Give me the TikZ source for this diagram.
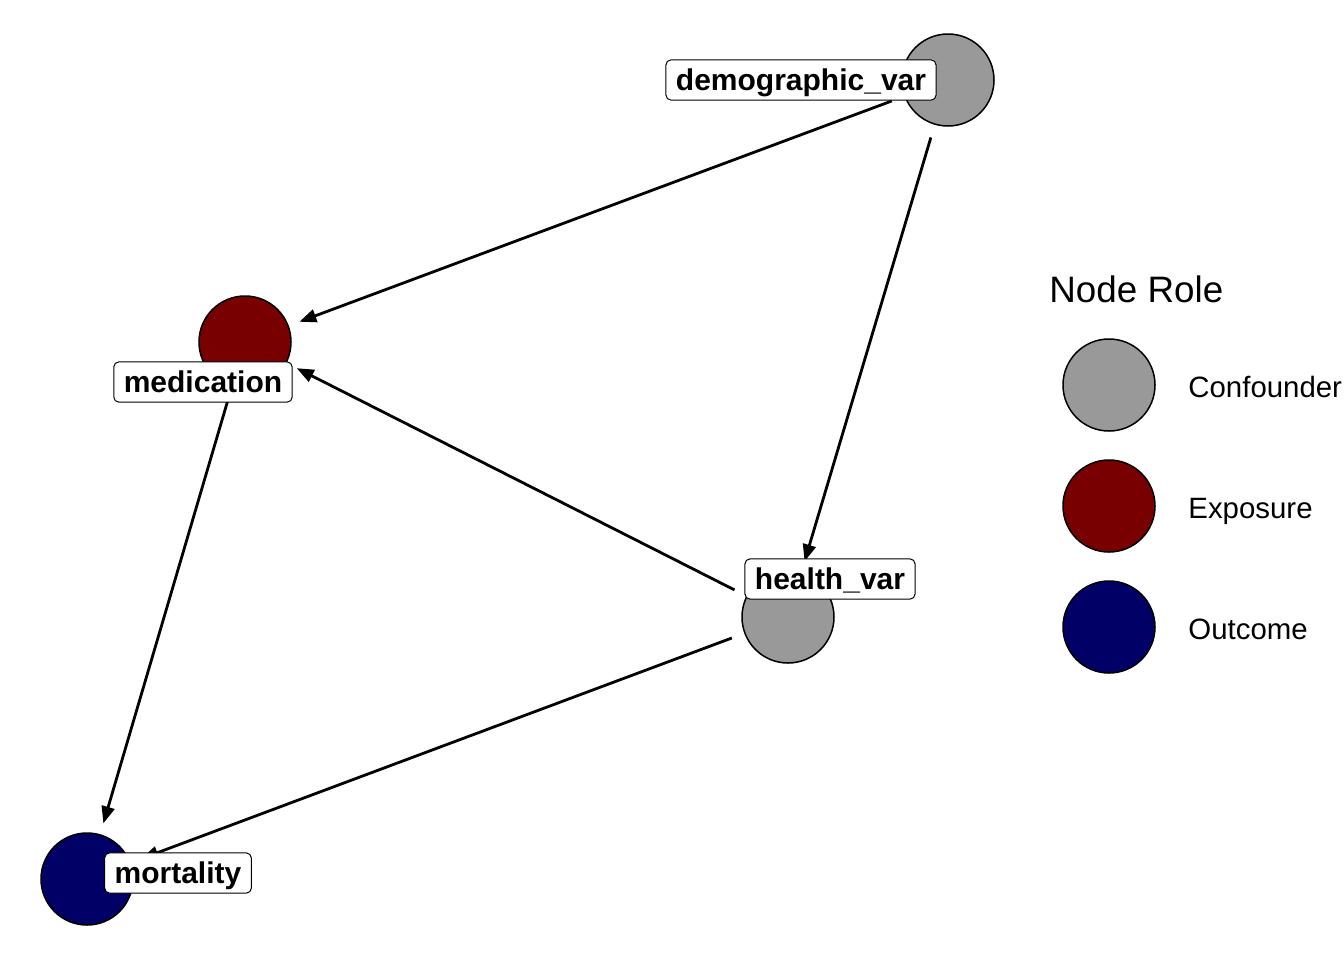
\documentclass[tikz,border=0pt]{standalone}
\usepackage{fontspec}
\setmainfont{Liberation Sans}
\usetikzlibrary{arrows.meta}
\definecolor{conf}{HTML}{999999}
\definecolor{expo}{HTML}{780000}
\definecolor{outc}{HTML}{000066}
\tikzset{
  dagnode/.style={circle, draw=black, line width=0.75pt, minimum size=46pt, inner sep=0pt},
  daglabel/.style={rectangle, rounded corners=2.5pt, draw=black, line width=0.5pt, fill=white,
    inner xsep=5pt, inner ysep=2.8pt, text height=12.5pt, text depth=2pt,
    font=\fontsize{15}{18}\selectfont\bfseries},
  dagedge/.style={line width=1.4pt, -{Triangle[length=8.5pt,width=6.5pt]}, shorten <=30pt, shorten >=29pt},
  legtext/.style={anchor=base west, inner sep=0pt, font=\fontsize{14.7}{17}\selectfont},
}
\begin{document}
\begin{tikzpicture}[x=0.5pt, y=-0.5pt]
\useasboundingbox (0,0) rectangle (1344,960);
% nodes
\node[dagnode, fill=conf] (demo) at (948,80) {};
\node[dagnode, fill=expo] (med) at (245,342) {};
\node[dagnode, fill=conf] (health) at (788,617) {};
\node[dagnode, fill=outc] (mort) at (87,879) {};
% edges
\draw[dagedge] (demo.center) -- (med.center);
\draw[dagedge] (demo.center) -- (health.center);
\draw[dagedge] (health.center) -- (med.center);
\draw[dagedge] (med.center) -- (mort.center);
\draw[dagedge] (health.center) -- (mort.center);
% labels
\node[daglabel] (demoL) at (801,80) {demographic\_var};
\node[daglabel] (medL) at (203,382) {medication};
\node[daglabel] (healthL) at (830,579) {health\_var};
\node[daglabel] (mortL) at (178,873) {mortality};
% legend
\node[anchor=base west, inner sep=0pt, font=\fontsize{18.4}{22}\selectfont] (legtitle) at (1049,302) {Node Role};
\node[dagnode, fill=conf] (legC) at (1109,385) {};
\node[dagnode, fill=expo] (legE) at (1109,506) {};
\node[dagnode, fill=outc] (legO) at (1109,627) {};
\node[legtext] (legCt) at (1188,397) {Confounder};
\node[legtext] (legEt) at (1188,518) {Exposure};
\node[legtext] (legOt) at (1188,639) {Outcome};
\end{tikzpicture}
\end{document}
